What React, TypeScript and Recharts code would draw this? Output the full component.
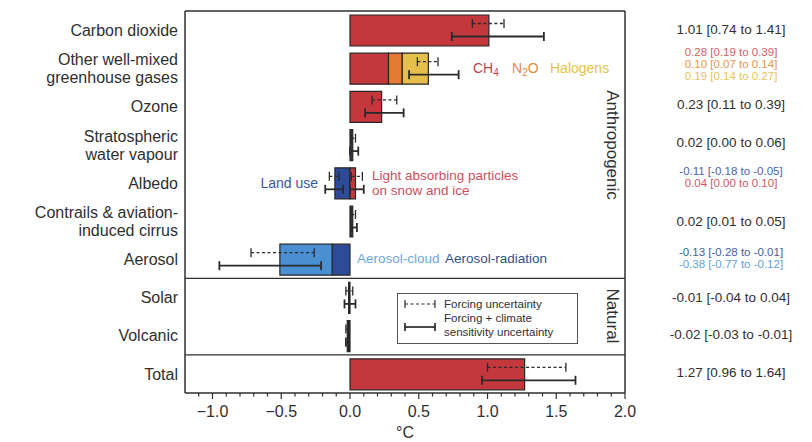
import { Bar, BarChart, Cell, ReferenceLine, XAxis, YAxis } from 'recharts';

const FONT = '"Liberation Sans", Arial, Helvetica, sans-serif';
const INK = '#2f2f2f';

const CATEGORIES = [
  'Carbon dioxide',
  'Other well-mixed\ngreenhouse gases',
  'Ozone',
  'Stratospheric\nwater vapour',
  'Albedo',
  'Contrails & aviation-\ninduced cirrus',
  'Aerosol',
  'Solar',
  'Volcanic',
  'Total',
];

// stacked contributions in °C; part 1 sits next to zero
const PART_1 = [1.01, 0.28, 0.23, 0.02, -0.11, 0.02, -0.13, -0.01, -0.02, 1.27];
const PART_2 = [null, 0.1, null, null, 0.04, null, -0.38, null, null, null];
const PART_3 = [null, 0.19, null, null, null, null, null, null, null, null];

// forcing uncertainty (dashed) / forcing + climate sensitivity uncertainty (solid)
const FORCING_LO = [0.89, 0.49, 0.16, 0.01, -0.15, 0.01, -0.72, -0.03, -0.03, 1.0];
const FORCING_HI = [1.12, 0.64, 0.34, 0.04, -0.08, 0.04, -0.26, 0.02, -0.01, 1.57];
const FULL_LO = [0.74, 0.43, 0.11, 0.0, -0.18, 0.01, -0.95, -0.04, -0.03, 0.96];
const FULL_HI = [1.41, 0.79, 0.39, 0.06, -0.05, 0.05, -0.21, 0.04, -0.01, 1.64];
// second error pair on the albedo row (light absorbing particles)
const FORCING_LO_2 = [null, null, null, null, 0.01, null, null, null, null, null];
const FORCING_HI_2 = [null, null, null, null, 0.09, null, null, null, null, null];
const FULL_LO_2 = [null, null, null, null, 0.0, null, null, null, null, null];
const FULL_HI_2 = [null, null, null, null, 0.1, null, null, null, null, null];

const VALUE_LINES = [
  ['1.01 [0.74 to 1.41]'],
  ['0.28 [0.19 to 0.39]', '0.10 [0.07 to 0.14]', '0.19 [0.14 to 0.27]'],
  ['0.23 [0.11 to 0.39]'],
  ['0.02 [0.00 to 0.06]'],
  ['-0.11 [-0.18 to -0.05]', '0.04 [0.00 to 0.10]'],
  ['0.02 [0.01 to 0.05]'],
  ['-0.13 [-0.28 to -0.01]', '-0.38 [-0.77 to -0.12]'],
  ['-0.01 [-0.04 to 0.04]'],
  ['-0.02 [-0.03 to -0.01]'],
  ['1.27 [0.96 to 1.64]'],
];

const X_TICKS = [
  -1.1, -1.0, -0.9, -0.8, -0.7, -0.6, -0.5, -0.4, -0.3, -0.2, -0.1, 0, 0.1, 0.2, 0.3, 0.4, 0.5, 0.6,
  0.7, 0.8, 0.9, 1.0, 1.1, 1.2, 1.3, 1.4, 1.5, 1.6, 1.7, 1.8, 1.9, 2.0,
];

const RED = '#c4373c';
const ORANGE = '#e47a33';
const YELLOW = '#e6bf4a';
const DARK_BLUE = '#2d4b98';
const LIGHT_BLUE = '#4b8fd3';
const DARK = '#3a2e42';

const PART_1_COLORS = [RED, RED, RED, DARK, DARK_BLUE, DARK, DARK_BLUE, '#222', '#222', RED];
const PART_2_COLORS = [RED, ORANGE, RED, RED, RED, RED, LIGHT_BLUE, RED, RED, RED];
const PART_3_COLORS = [YELLOW, YELLOW, YELLOW, YELLOW, YELLOW, YELLOW, YELLOW, YELLOW, YELLOW, YELLOW];

const VALUE_COLORS: Record<number, string[]> = {
  1: ['#d0606a', '#e8944c', '#e6c655'],
  4: ['#4f62b0', '#d05865'],
  6: ['#45609e', '#62a2de'],
};
// first-line offset of the right-hand value text, relative to the row centre
const VALUE_SHIFT = [0, -16.5, -1.5, -1.5, -12.5, 1, -8, 0, -1, -1];

const pair = (lo: number | null, hi: number | null) =>
  lo === null || hi === null ? null : [lo, hi];

const rows = CATEGORIES.map((name, i) => ({
  name,
  p1: PART_1[i],
  p2: PART_2[i] ?? 0,
  p3: PART_3[i] ?? 0,
  forcing: pair(FORCING_LO[i], FORCING_HI[i]),
  full: pair(FULL_LO[i], FULL_HI[i]),
  forcing2: pair(FORCING_LO_2[i], FORCING_HI_2[i]),
  full2: pair(FULL_LO_2[i], FULL_HI_2[i]),
}));

const errorShape = (dashed: boolean) => (props: any) => {
  const { x, y, width, height } = props;
  if (![x, y, width, height].every((n) => Number.isFinite(n))) return <g />;
  const x1 = Math.min(x, x + width);
  const x2 = Math.max(x, x + width);
  const cy = y + height / 2;
  const cap = 4.5;
  return (
    <g stroke="#2a2a2a" strokeWidth={dashed ? 1.3 : 1.8} fill="none">
      <line x1={x1} x2={x2} y1={cy} y2={cy} strokeDasharray={dashed ? '3 2.5' : undefined} />
      <line x1={x1} x2={x1} y1={cy - cap} y2={cy + cap} />
      <line x1={x2} x2={x2} y1={cy - cap} y2={cy + cap} />
    </g>
  );
};

const CategoryTick = (props: any) => {
  const { x, y, payload } = props;
  const lines = String(payload?.value ?? '').split('\n');
  const first = lines.length > 1 ? -8.5 : 0;
  return (
    <text textAnchor="end" fontSize={16} fill={INK} fontFamily={FONT}>
      {lines.map((line, i) => (
        <tspan key={i} x={x - 7} y={y + first + i * 18 + 5.6}>
          {line}
        </tspan>
      ))}
    </text>
  );
};

const ValueTick = (props: any) => {
  const { x, y, payload } = props;
  const idx = CATEGORIES.indexOf(payload?.value);
  if (idx < 0) return <g />;
  const lines = VALUE_LINES[idx];
  const colors = VALUE_COLORS[idx];
  const multi = lines.length > 1;
  return (
    <text textAnchor="middle" fontSize={multi ? 11.5 : 13.5} fontFamily={FONT}>
      {lines.map((line, i) => (
        <tspan
          key={i}
          x={x + 106}
          y={y + VALUE_SHIFT[idx] + i * 12 + 4.2}
          fill={colors ? colors[i] : INK}
        >
          {line}
        </tspan>
      ))}
    </text>
  );
};

const XTick = (props: any) => {
  const { x, y, payload } = props;
  const v = Number(payload?.value);
  const major = Math.abs(v * 2 - Math.round(v * 2)) < 1e-6;
  return (
    <g>
      <line x1={x} x2={x} y1={y} y2={y + (major ? 6 : 3.5)} stroke={INK} strokeWidth={1.2} />
      {major ? (
        <text x={x} y={y + 24} textAnchor="middle" fontSize={16} fill={INK} fontFamily={FONT}>
          {v.toFixed(1).replace('-', '\u2212')}
        </text>
      ) : null}
    </g>
  );
};

const Notes = () => (
  <svg
    width={812}
    height={442}
    style={{ position: 'absolute', left: 0, top: 0, pointerEvents: 'none' }}
    fontFamily={FONT}
  >
    <g fontSize={14}>
      <text x={473} y={73} fill="#c2434f">
        CH<tspan fontSize={10} dy={3}>4</tspan>
      </text>
      <text x={512} y={73} fill="#e58a3c">
        N<tspan fontSize={10} dy={3}>2</tspan>
        <tspan dy={-3}>O</tspan>
      </text>
      <text x={550} y={73} fill="#e5c24a">
        Halogens
      </text>
      <text x={318} y={188} fill="#3b55a0" textAnchor="end">
        Land use
      </text>
    </g>
    <g fontSize={13.5}>
      <text x={372} y={180} fill="#cf4f5c">
        Light absorbing particles
      </text>
      <text x={372} y={195} fill="#cf4f5c">
        on snow and ice
      </text>
      <text x={357} y={263} fill="#6ea6de">
        Aerosol-cloud
      </text>
      <text x={445} y={263} fill="#34508f">
        Aerosol-radiation
      </text>
    </g>
    <g fontSize={17} fill={INK}>
      <text x={612} y={145} textAnchor="middle" dominantBaseline="central" transform="rotate(90 612 145)">
        Anthropogenic
      </text>
      <text x={612} y={316} textAnchor="middle" dominantBaseline="central" transform="rotate(90 612 316)">
        Natural
      </text>
    </g>
    <rect x={397.5} y={293.5} width={180} height={50} fill="#fff" stroke="#555" strokeWidth={1} />
    <g stroke="#2a2a2a" fill="none">
      <line x1={405} x2={435} y1={304} y2={304} strokeWidth={1.2} strokeDasharray="3 2.5" />
      <line x1={405} x2={405} y1={300} y2={308} strokeWidth={1.2} />
      <line x1={435} x2={435} y1={300} y2={308} strokeWidth={1.2} />
      <line x1={405} x2={435} y1={327} y2={327} strokeWidth={1.7} />
      <line x1={405} x2={405} y1={323} y2={331} strokeWidth={1.7} />
      <line x1={435} x2={435} y1={323} y2={331} strokeWidth={1.7} />
    </g>
    <g fontSize={11.5} fill={INK}>
      <text x={444} y={308}>Forcing uncertainty</text>
      <text x={444} y={322}>Forcing + climate</text>
      <text x={444} y={336}>sensitivity uncertainty</text>
    </g>
  </svg>
);

export default function App() {
  return (
    <div style={{ position: 'absolute', left: 0, top: 0, width: 812, height: 442, background: '#fff' }}>
      <BarChart
        width={812}
        height={442}
        data={rows}
        layout="vertical"
        stackOffset="sign"
        barGap={0}
        margin={{ top: 11, right: 0, bottom: 0, left: 0 }}
      >
        <XAxis
          type="number"
          domain={[-1.2, 2]}
          allowDataOverflow
          ticks={X_TICKS}
          interval={0}
          height={49}
          tickSize={0}
          tickMargin={0}
          tickLine={false}
          tick={XTick}
          axisLine={{ stroke: INK, strokeWidth: 1.5 }}
          label={{ value: '°C', position: 'insideBottom', offset: 4, fill: INK, fontSize: 16, fontFamily: FONT }}
        />
        <YAxis
          yAxisId="main"
          type="category"
          dataKey="name"
          width={185}
          interval={0}
          tickSize={0}
          tickMargin={0}
          tickLine={false}
          tick={CategoryTick}
          axisLine={{ stroke: INK, strokeWidth: 1.5 }}
        />
        <YAxis
          yAxisId="values"
          orientation="right"
          type="category"
          dataKey="name"
          width={187}
          interval={0}
          tickSize={0}
          tickMargin={0}
          tickLine={false}
          tick={ValueTick}
          axisLine={{ stroke: INK, strokeWidth: 1.5 }}
        />
        <YAxis yAxisId="err" type="category" dataKey="name" width={0} hide />
        <YAxis yAxisId="err2" type="category" dataKey="name" width={0} hide />

        <ReferenceLine yAxisId="main" y="Carbon dioxide" position="start" stroke={INK} strokeWidth={1.5} />
        <ReferenceLine yAxisId="main" y="Solar" position="start" stroke={INK} strokeWidth={1.2} />
        <ReferenceLine yAxisId="main" y="Total" position="start" stroke={INK} strokeWidth={1.2} />

        <Bar yAxisId="main" dataKey="p1" stackId="s" barSize={31} stroke="#262626" strokeWidth={1.2} isAnimationActive={false}>
          {rows.map((r, i) => (
            <Cell key={r.name} fill={PART_1_COLORS[i]} />
          ))}
        </Bar>
        <Bar yAxisId="main" dataKey="p2" stackId="s" barSize={31} stroke="#262626" strokeWidth={1.2} isAnimationActive={false}>
          {rows.map((r, i) => (
            <Cell key={r.name} fill={PART_2_COLORS[i]} />
          ))}
        </Bar>
        <Bar yAxisId="main" dataKey="p3" stackId="s" barSize={31} stroke="#262626" strokeWidth={1.2} isAnimationActive={false}>
          {rows.map((r, i) => (
            <Cell key={r.name} fill={PART_3_COLORS[i]} />
          ))}
        </Bar>

        <Bar yAxisId="err" dataKey="forcing" barSize={13} shape={errorShape(true)} isAnimationActive={false} />
        <Bar yAxisId="err" dataKey="full" barSize={13} shape={errorShape(false)} isAnimationActive={false} />
        <Bar yAxisId="err2" dataKey="forcing2" barSize={13} shape={errorShape(true)} isAnimationActive={false} />
        <Bar yAxisId="err2" dataKey="full2" barSize={13} shape={errorShape(false)} isAnimationActive={false} />
      </BarChart>
      <Notes />
    </div>
  );
}
